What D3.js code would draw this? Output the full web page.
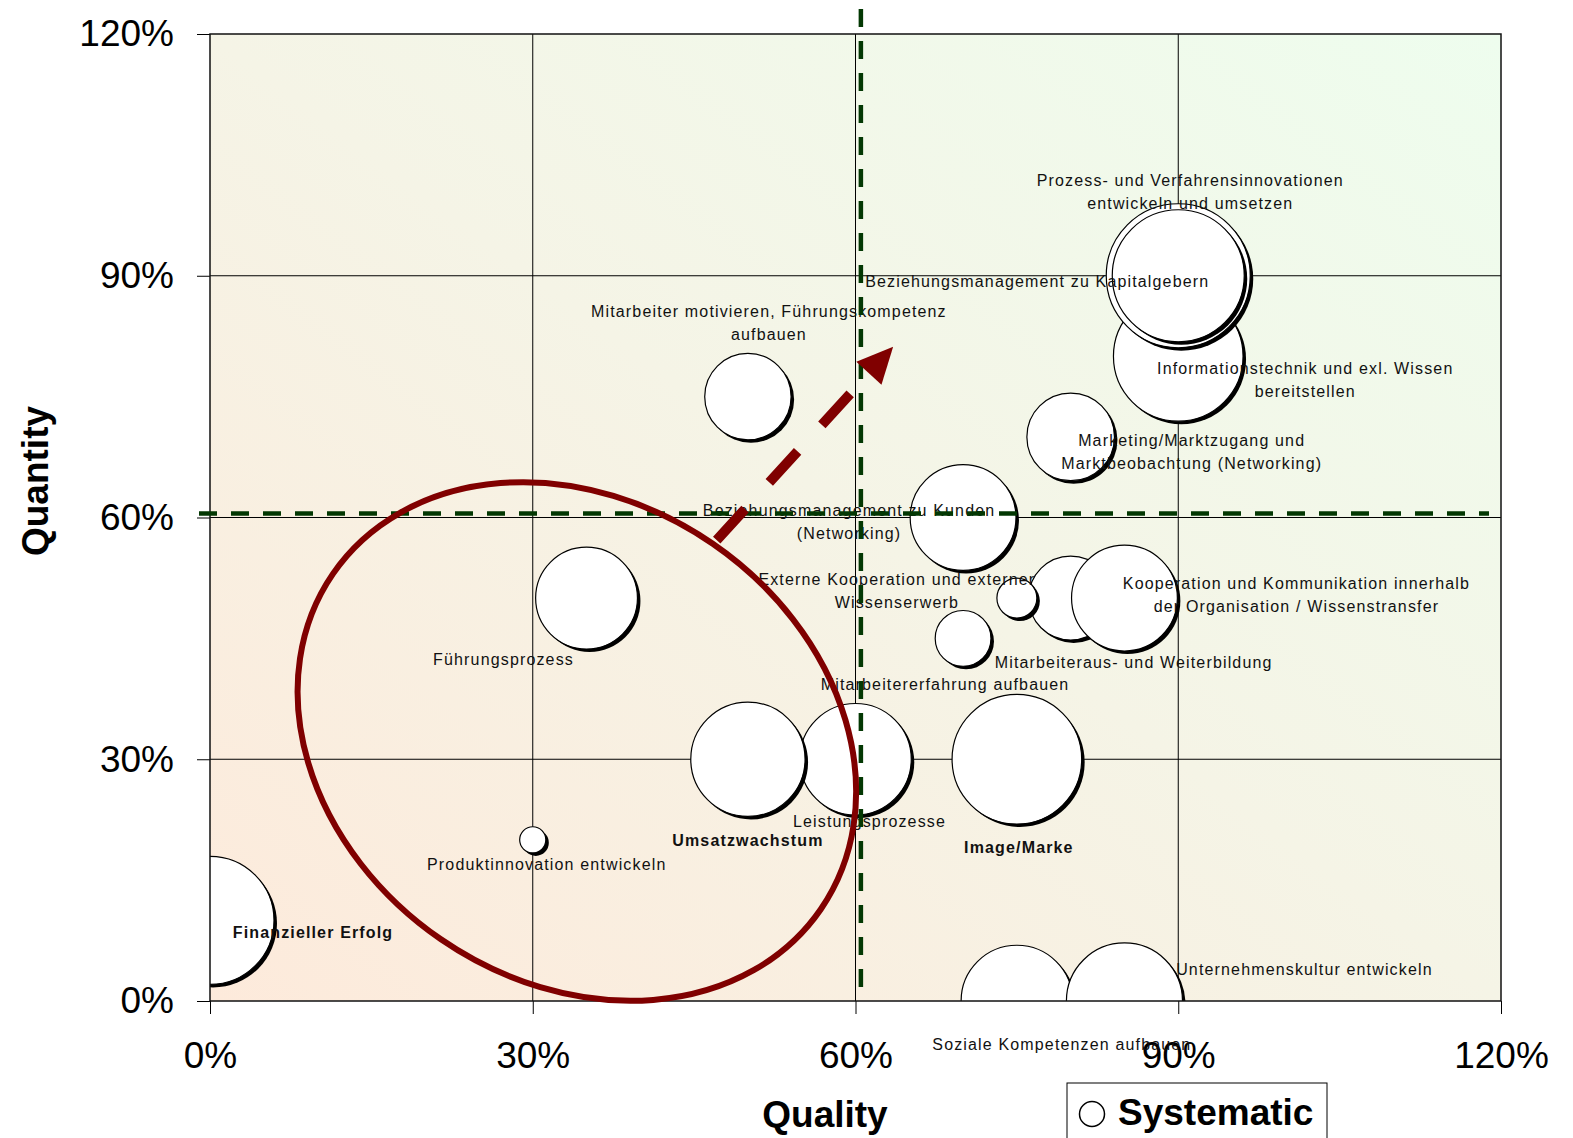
<!DOCTYPE html>
<html>
<head>
<meta charset="utf-8">
<script src="https://cdn.jsdelivr.net/npm/d3@7"></script>
<style>
  body { margin: 0; background: #fff; }
  svg { display: block; font-family: "Liberation Sans", Arial, sans-serif; }
</style>
</head>
<body>
<div id="chart"></div>
<script>
// bubble data: label, quality (x, %), quantity (y, %), bubble size
const labels = [
  'Finanzieller Erfolg',
  'Produktinnovation entwickeln',
  'Führungsprozess',
  'Leistungsprozesse',
  'Umsatzwachstum',
  'Image/Marke',
  'Mitarbeiter motivieren, Führungskompetenz\naufbauen',
  'Beziehungsmanagement zu Kunden\n(Networking)',
  'Mitarbeiteraus- und Weiterbildung',
  'Externe Kooperation und externer\nWissenserwerb',
  'Mitarbeitererfahrung aufbauen',
  'Kooperation und Kommunikation innerhalb\nder Organisation / Wissenstransfer',
  'Marketing/Marktzugang und\nMarktbeobachtung (Networking)',
  'Informationstechnik und exl. Wissen\nbereitstellen',
  'Prozess- und Verfahrensinnovationen\nentwickeln und umsetzen',
  'Beziehungsmanagement zu Kapitalgebern',
  'Soziale Kompetenzen aufbauen',
  'Unternehmenskultur entwickeln'
];
const quality  = [0, 30, 35, 60, 50, 75, 50, 70, 80, 75, 70, 85, 80, 90, 90, 90, 75, 85];
const quantity = [10, 20, 50, 30, 30, 30, 75, 60, 50, 50, 45, 50, 70, 80, 90, 90, 0, 0];
const sizes    = [79, 3.3, 50, 60, 63, 81, 36, 54, 34, 7.7, 15, 54, 37, 81, 100, 84, 60, 65];
const boldLabels = ['Finanzieller Erfolg', 'Umsatzwachstum', 'Image/Marke'];

const tickValues = [0, 30, 60, 90, 120];
const thresholdQuality = 60.5;
const thresholdQuantity = 60.5;
const legendLabel = 'Systematic';

// label placement, pixel offset of the first text line from the bubble centre
const labelOffsets = [
  [103, 12], [14, 25], [-83, 61], [14, 62], [0, 81], [2, 88],
  [21, -85], [-114, -7], [63, 64], [-120, -19], [-18, 46], [172, -15],
  [121, 3], [127, 12], [12, -95], [-141, 6], [45, 43], [180, -32]
];

const width = 1573;
const height = 1138;
const margin = {top: 34, right: 72, bottom: 137, left: 210};
const plotW = width - margin.left - margin.right;
const plotH = height - margin.top - margin.bottom;

const svg = d3.select('#chart')
  .append('svg')
  .attr('width', width)
  .attr('height', height);

const defs = svg.append('defs');
const grad = defs.append('linearGradient')
  .attr('id', 'bg')
  .attr('x1', 0).attr('y1', 1).attr('x2', 1).attr('y2', 0);
grad.append('stop').attr('offset', '0%').attr('stop-color', '#fdeadb');
grad.append('stop').attr('offset', '50%').attr('stop-color', '#f5f4e6');
grad.append('stop').attr('offset', '100%').attr('stop-color', '#eefdee');

defs.append('clipPath').attr('id', 'plotClip')
  .append('rect').attr('width', plotW).attr('height', plotH);

const x = d3.scaleLinear().domain([0, 120]).range([0, plotW]);
const y = d3.scaleLinear().domain([0, 120]).range([plotH, 0]);
const r = d3.scaleSqrt().domain([0, 100]).range([0, 72]);

const g = svg.append('g').attr('transform', 'translate(' + margin.left + ',' + margin.top + ')');

g.append('rect')
  .attr('width', plotW)
  .attr('height', plotH)
  .attr('fill', 'url(#bg)');

// gridlines
g.append('g').selectAll('line')
  .data(tickValues.slice(1, -1))
  .enter().append('line')
  .attr('x1', d => x(d)).attr('x2', d => x(d))
  .attr('y1', 0).attr('y2', plotH)
  .attr('stroke', '#000').attr('stroke-width', 1);
g.append('g').selectAll('line')
  .data(tickValues.slice(1, -1))
  .enter().append('line')
  .attr('y1', d => y(d)).attr('y2', d => y(d))
  .attr('x1', 0).attr('x2', plotW)
  .attr('stroke', '#000').attr('stroke-width', 1);

// axes
const xAxis = g.append('g')
  .attr('transform', 'translate(0,' + plotH + ')')
  .call(d3.axisBottom(x).tickValues(tickValues).tickSize(13).tickPadding(28).tickFormat(d => d + '%'));
const yAxis = g.append('g')
  .call(d3.axisLeft(y).tickValues(tickValues).tickSize(13).tickPadding(23).tickFormat(d => d + '%'));
[xAxis, yAxis].forEach(a => {
  a.select('.domain').remove();
  a.selectAll('line').attr('stroke', '#000');
  a.selectAll('text')
    .attr('fill', '#000')
    .style('font-size', '37px')
    .style('font-family', '"Liberation Sans", Arial, sans-serif');
});
xAxis.selectAll('text').attr('dy', '0.71em');

// bubbles
const bubbles = labels.map((d, i) => ({
  label: d, q: quality[i], n: quantity[i], s: sizes[i], off: labelOffsets[i]
}));

const bubbleG = g.append('g').attr('clip-path', 'url(#plotClip)');
const bub = bubbleG.selectAll('g.bubble')
  .data(bubbles)
  .enter().append('g')
  .attr('class', 'bubble');
bub.append('circle')
  .attr('cx', d => x(d.q) + 3)
  .attr('cy', d => y(d.n) + 3)
  .attr('r', d => r(d.s))
  .attr('fill', '#000');
bub.append('circle')
  .attr('cx', d => x(d.q))
  .attr('cy', d => y(d.n))
  .attr('r', d => r(d.s))
  .attr('fill', '#fff')
  .attr('stroke', '#000')
  .attr('stroke-width', 1.2);

// plot border
g.append('rect')
  .attr('width', plotW)
  .attr('height', plotH)
  .attr('fill', 'none')
  .attr('stroke', '#111')
  .attr('stroke-width', 1.5);

// data labels
const lab = g.append('g').selectAll('text')
  .data(bubbles)
  .enter().append('text')
  .attr('x', d => x(d.q) + d.off[0])
  .attr('y', d => y(d.n) + d.off[1])
  .attr('text-anchor', 'middle')
  .attr('fill', '#111')
  .style('font-size', '16px')
  .style('letter-spacing', '1.15px')
  .style('font-weight', d => boldLabels.includes(d.label) ? 'bold' : 'normal');
lab.selectAll('tspan')
  .data(d => d.label.split('\n').map(t => ({t: t, x: x(d.q) + d.off[0]})))
  .enter().append('tspan')
  .attr('x', d => d.x)
  .attr('dy', (d, i) => i === 0 ? '0.35em' : '23px')
  .text(d => d.t);

// threshold dashed lines
g.append('line')
  .attr('x1', x(thresholdQuality)).attr('x2', x(thresholdQuality))
  .attr('y1', -25).attr('y2', plotH - 13)
  .attr('stroke', '#033803')
  .attr('stroke-width', 4.5)
  .attr('stroke-dasharray', '18,14');
g.append('line')
  .attr('x1', -11).attr('x2', plotW - 12)
  .attr('y1', y(thresholdQuantity)).attr('y2', y(thresholdQuantity))
  .attr('stroke', '#033803')
  .attr('stroke-width', 4.5)
  .attr('stroke-dasharray', '18,14');

// red ellipse around the weak area
const ellipseCenter = [34.1, 32.2];
g.append('ellipse')
  .attr('transform', 'translate(' + x(ellipseCenter[0]) + ',' + y(ellipseCenter[1]) + ') rotate(34.5)')
  .attr('rx', 296)
  .attr('ry', 240)
  .attr('fill', 'none')
  .attr('stroke', '#800000')
  .attr('stroke-width', 6);

// dashed arrow towards the upper right quadrant
const arrowFrom = [47.1, 57.2];
const arrowTo = [63.5, 81.2];
const ax1 = x(arrowFrom[0]), ay1 = y(arrowFrom[1]);
const ax2 = x(arrowTo[0]), ay2 = y(arrowTo[1]);
const ang = Math.atan2(ay2 - ay1, ax2 - ax1);
const headLen = 36, headHalf = 17;
const bx = ax2 - headLen * Math.cos(ang), by = ay2 - headLen * Math.sin(ang);
g.append('line')
  .attr('x1', ax1).attr('y1', ay1)
  .attr('x2', bx - 4 * Math.cos(ang)).attr('y2', by - 4 * Math.sin(ang))
  .attr('stroke', '#800000')
  .attr('stroke-width', 10)
  .attr('stroke-dasharray', '42,36');
g.append('polygon')
  .attr('points', [
    [ax2, ay2],
    [bx + headHalf * Math.sin(ang), by - headHalf * Math.cos(ang)],
    [bx - headHalf * Math.sin(ang), by + headHalf * Math.cos(ang)]
  ].map(p => p.join(',')).join(' '))
  .attr('fill', '#800000');

// axis titles
svg.append('text')
  .attr('x', 825).attr('y', 1127)
  .attr('text-anchor', 'middle')
  .style('font-size', '37px').style('font-weight', 'bold')
  .text('Quality');
svg.append('text')
  .attr('transform', 'translate(48,481) rotate(-90)')
  .attr('text-anchor', 'middle')
  .style('font-size', '37px').style('font-weight', 'bold')
  .text('Quantity');

// legend
const legend = svg.append('g').attr('transform', 'translate(1067,1083)');
legend.append('rect')
  .attr('width', 260).attr('height', 70)
  .attr('fill', '#fff').attr('stroke', '#000').attr('stroke-width', 1);
legend.append('circle')
  .attr('cx', 25).attr('cy', 31).attr('r', 12.5)
  .attr('fill', '#fff').attr('stroke', '#000').attr('stroke-width', 1.5);
legend.append('text')
  .attr('x', 51).attr('y', 42)
  .style('font-size', '37px').style('font-weight', 'bold')
  .text(legendLabel);
</script>
</body>
</html>
